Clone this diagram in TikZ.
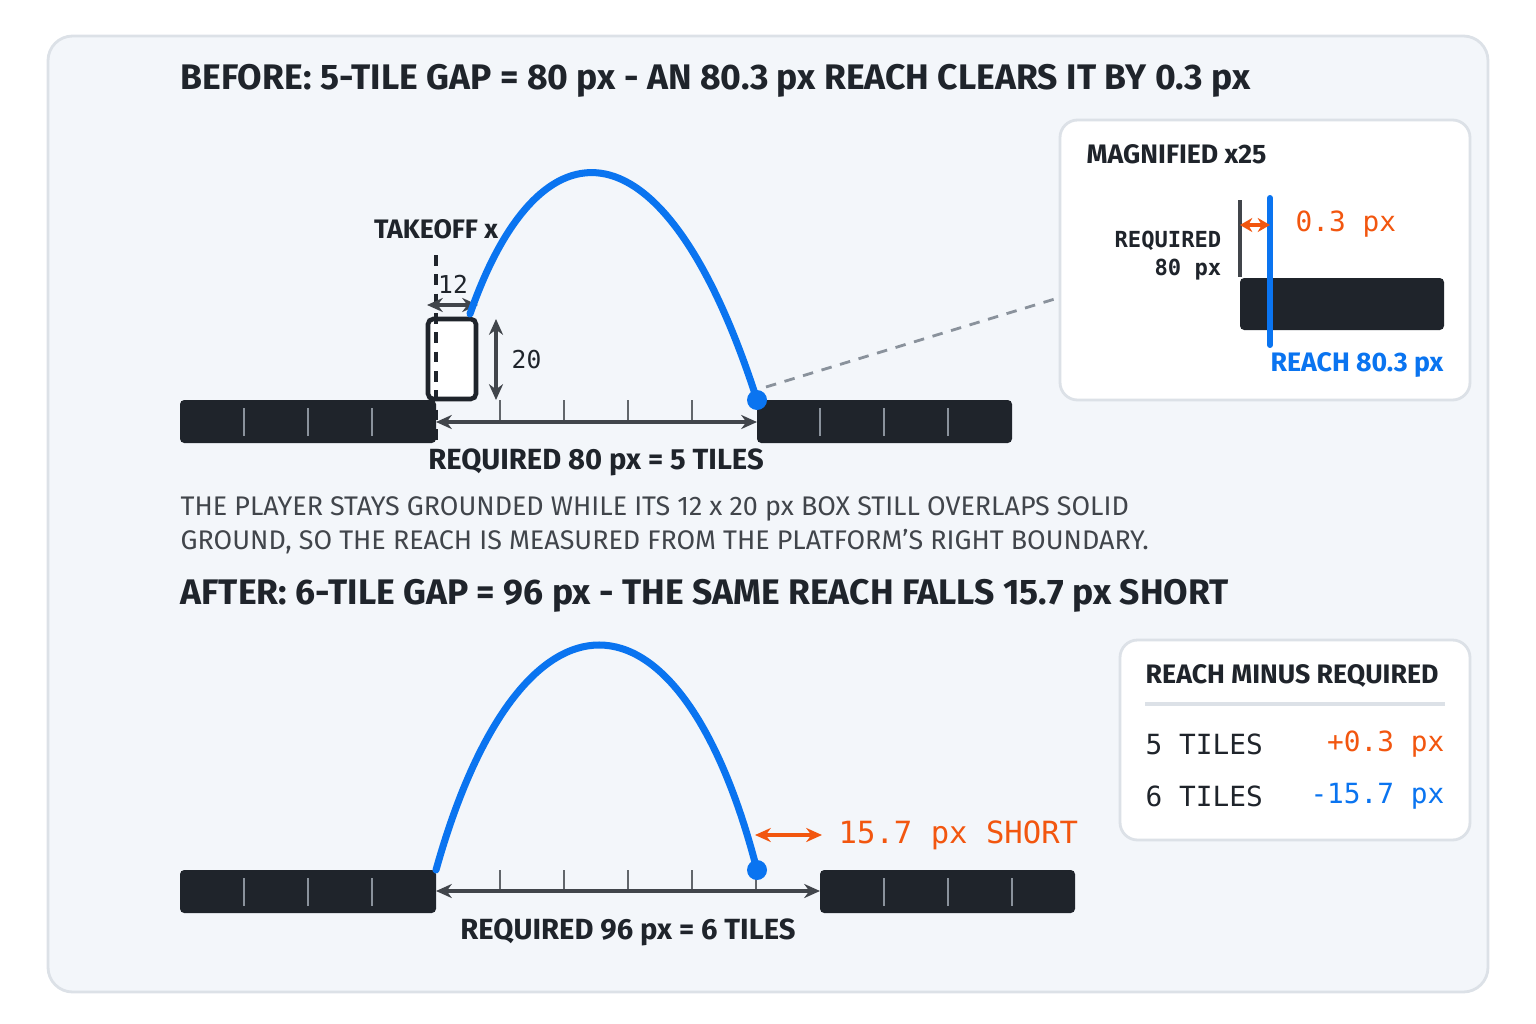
\documentclass[tikz,border=0pt]{standalone}
\usepackage{fontspec}
\setmainfont{Fira Sans}
\setmonofont{DejaVu Sans Mono}
\usetikzlibrary{arrows.meta}
\definecolor{ink}{HTML}{1F242B}
\definecolor{jump}{HTML}{0A74F0}
\definecolor{gapc}{HTML}{F2560F}
\definecolor{panel}{HTML}{F3F6FA}
\definecolor{rim}{HTML}{DCE1E7}
\definecolor{tick}{HTML}{8A929C}
\begin{document}
\begin{tikzpicture}[x=0.01cm, y=-0.01cm, >={Stealth[length=4.5pt,width=4pt]},
    head/.style={anchor=west, inner sep=0pt, font=\bfseries\fontsize{10.1}{12}\selectfont, text=ink},
    lbl/.style={inner sep=0pt, font=\bfseries\fontsize{7.6}{9}\selectfont, text=ink},
    mono/.style={inner sep=0pt, font=\ttfamily\fontsize{7.9}{9}\selectfont},
    card/.style={draw=rim, line width=0.8pt, fill=white, rounded corners=5pt},
    ground/.style={fill=ink, rounded corners=1.2pt},
    arc/.style={jump, line width=2pt, line cap=round},
    dim/.style={<->, draw=ink!85, line width=0.9pt}]
\useasboundingbox (0,0) rectangle (1536,1024);
\draw[draw=rim, line width=0.8pt, fill=panel, rounded corners=7pt] (48,36) rectangle (1488,992);

% before
\node[head] (t1) at (180,81) {BEFORE: 5-TILE GAP = 80 px - AN 80.3 px REACH CLEARS IT BY 0.3 px};
\fill[ground] (180,400) rectangle (436,443);
\fill[ground] (757,400) rectangle (1012,443);
\foreach \x in {244,308,372,820,884,948} \draw[tick, line width=0.6pt] (\x,408) -- (\x,436);
\foreach \x in {500,564,628,692} \draw[ink!70, line width=0.6pt] (\x,400) -- (\x,420);
\coordinate (gapL) at (436,422);
\coordinate (gapR) at (757,422);
\draw[dim] (gapL) -- (gapR);
\node[lbl, font=\bfseries\fontsize{8.3}{10}\selectfont] (req1) at (596,462) {REQUIRED 80 px = 5 TILES};
\draw[ink, line width=1.3pt, fill=white, rounded corners=1.5pt] (428,319) rectangle (476,399);
\draw[ink, line width=1pt, dash pattern=on 3pt off 2.5pt] (436,255) -- (436,442);
\node[lbl, anchor=south] (tko) at (436,240) {TAKEOFF x};
\coordinate (wL) at (427,305);
\coordinate (wR) at (478,305);
\draw[dim] (wL) -- (wR);
\node[mono, text=ink, font=\ttfamily\fontsize{7}{8}\selectfont] (w12) at (453,284) {12};
\coordinate (hT) at (496,319);
\coordinate (hB) at (496,400);
\draw[dim] (hT) -- (hB);
\node[mono, text=ink, anchor=west, font=\ttfamily\fontsize{7}{8}\selectfont] (h20) at (511,360) {20};
\coordinate (lift) at (470,314);
\coordinate (land) at (757,400);
\draw[arc] (lift) .. controls (540,113) and (665,113) .. (land);
\fill[jump] (land) circle (10);
\coordinate (zoomin) at (1058,298);
\draw[tick, line width=0.8pt, dash pattern=on 3pt off 2.5pt] (766,387) -- (zoomin);

% magnified card
\draw[card] (1060,120) rectangle (1470,400);
\node[lbl, anchor=west] (mag) at (1086,154) {MAGNIFIED x25};
\fill[ground] (1240,278) rectangle (1444,330);
\draw[ink!85, line width=1.1pt] (1240,200) -- (1240,277);
\draw[jump, line width=1.7pt, line cap=round] (1270,198) -- (1270,345);
\draw[{Stealth[length=3.5pt,width=4pt]}-{Stealth[length=3.5pt,width=4pt]}, gapc, line width=0.9pt] (1240,225) -- (1270,225);
\node[mono, text=gapc, anchor=west] (d03) at (1295,224) {0.3 px};
\node[mono, text=ink, anchor=east, align=right, font=\ttfamily\bfseries\fontsize{6.3}{8}\selectfont] (rq) at (1222,256) {REQUIRED\\80 px};
\node[lbl, text=jump, anchor=east] (rch) at (1444,365) {REACH 80.3 px};

% note
\node[anchor=north west, inner sep=0pt, align=left, text=ink!85, font=\fontsize{7.65}{9.7}\selectfont] (note) at (180,496)
  {THE PLAYER STAYS GROUNDED WHILE ITS 12 x 20 px BOX STILL OVERLAPS SOLID\\
   GROUND, SO THE REACH IS MEASURED FROM THE PLATFORM’S RIGHT BOUNDARY.};

% after
\node[head] (t2) at (180,596) {AFTER: 6-TILE GAP = 96 px - THE SAME REACH FALLS 15.7 px SHORT};
\fill[ground] (180,870) rectangle (436,913);
\fill[ground] (820,870) rectangle (1075,913);
\foreach \x in {244,308,372,884,948,1012} \draw[tick, line width=0.6pt] (\x,878) -- (\x,906);
\foreach \x in {500,564,628,692,756} \draw[ink!70, line width=0.6pt] (\x,870) -- (\x,890);
\coordinate (gapL2) at (436,891);
\coordinate (gapR2) at (820,891);
\draw[dim] (gapL2) -- (gapR2);
\node[lbl, font=\bfseries\fontsize{8.3}{10}\selectfont] (req2) at (628,932) {REQUIRED 96 px = 6 TILES};
\coordinate (lift2) at (436,870);
\coordinate (land2) at (757,870);
\draw[arc] (lift2) .. controls (520,570) and (680,570) .. (land2);
\fill[jump] (land2) circle (10);
\coordinate (shA) at (755,835);
\coordinate (shB) at (822,835);
\draw[<->, gapc, line width=1.1pt] (shA) -- (shB);
\node[mono, text=gapc, anchor=west, font=\ttfamily\fontsize{8.7}{10}\selectfont] (sh) at (838,835) {15.7 px SHORT};

% table card
\draw[card] (1120,640) rectangle (1470,840);
\node[lbl, anchor=west] (tab) at (1145,676) {REACH MINUS REQUIRED};
\draw[rim, line width=0.9pt] (1145,704) -- (1445,704);
\node[mono, text=ink, anchor=west] (r5) at (1145,744) {5 TILES};
\node[mono, text=gapc, anchor=east] (v5) at (1445,744) {+0.3 px};
\node[mono, text=ink, anchor=west] (r6) at (1145,796) {6 TILES};
\node[mono, text=jump, anchor=east] (v6) at (1445,796) {-15.7 px};
\end{tikzpicture}
\end{document}
